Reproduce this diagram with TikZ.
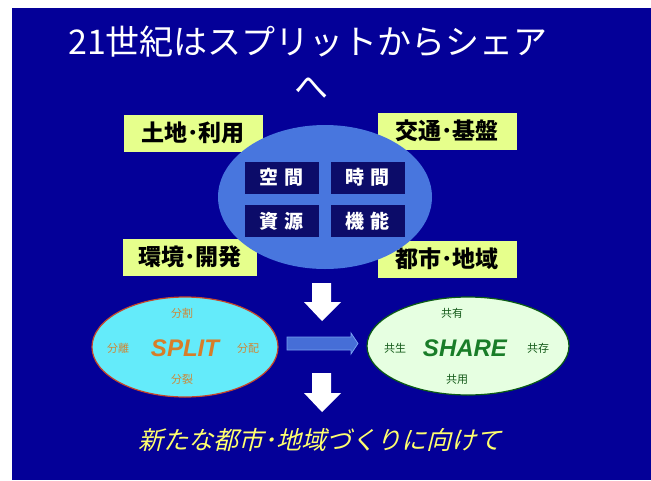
\documentclass[tikz,border=0pt]{standalone}
\usepackage{fontspec}
\newfontfamily\jp{Noto Sans CJK JP}
\newfontfamily\jpit[FakeSlant=0.25]{Noto Sans CJK JP}
\newfontfamily\lat{Liberation Sans}
\definecolor{bgblue}{RGB}{4,0,152}
\definecolor{yel}{RGB}{230,255,140}
\definecolor{midblue}{RGB}{72,118,222}
\definecolor{navybox}{RGB}{12,12,105}
\definecolor{cyanfill}{RGB}{100,235,250}
\definecolor{splitbd}{RGB}{200,70,40}
\definecolor{splittxt}{RGB}{205,135,55}
\definecolor{splitbig}{RGB}{215,125,40}
\definecolor{greenfill}{RGB}{230,255,225}
\definecolor{sharebd}{RGB}{10,90,20}
\definecolor{sharetxt}{RGB}{20,90,25}
\definecolor{sharebig}{RGB}{25,125,40}
\definecolor{arrblue}{RGB}{70,110,215}
\definecolor{arrbd}{RGB}{120,160,240}
\definecolor{titleyel}{RGB}{255,255,110}
\tikzset{
  ybox/.style={fill=yel, draw=none, minimum width=139pt, minimum height=37pt, inner sep=0pt, font=\jp\bfseries\fontsize{23}{23}\selectfont, text=black},
  nbox/.style={fill=navybox, draw=none, minimum width=74pt, minimum height=32pt, inner sep=0pt, font=\jp\bfseries\fontsize{19}{19}\selectfont, text=white},
  small/.style={font=\jp\fontsize{11}{11}\selectfont},
  big/.style={font=\lat\bfseries\itshape\fontsize{24}{24}\selectfont},
  downarr/.style={fill=white, draw=none}
}
\begin{document}
\begin{tikzpicture}[x=1pt,y=-1pt]
\useasboundingbox (0,0) rectangle (651,480);
\fill[white] (0,0) rectangle (651,480);
\fill[bgblue] (12,8) rectangle (651,480);
% title
\node[text=white, font=\jp\fontsize{34}{34}\selectfont, inner sep=0pt] (title) at (308,42) {21世紀はスプリットからシェア};
\node[text=white, font=\jp\fontsize{34}{34}\selectfont, inner sep=0pt] (he) at (311,88) {へ};
% yellow boxes
\node[ybox] (land) at (193,133) {土地･利用};
\node[ybox] (traffic) at (447,131) {交通･基盤};
\node[ybox, minimum width=134pt] (env) at (190,257) {環境･開発};
\node[ybox] (city) at (447,259) {都市･地域};
% central ellipse
\fill[midblue] (325,197) ellipse [x radius=107, y radius=72];
\node[nbox] (space) at (281.5,177.5) {空\,\,間};
\node[nbox] (time) at (367.5,177.5) {時\,\,間};
\node[nbox] (res) at (281.5,221) {資\,\,源};
\node[nbox] (func) at (367.5,221) {機\,\,能};
% down arrow 1
\fill[downarr] (312,283) -- (331,283) -- (331,302) -- (341,302) -- (322,321) -- (304,302) -- (312,302) -- cycle;
% split ellipse
\draw[splitbd, line width=1.2pt, fill=cyanfill] (185,347) ellipse [x radius=93, y radius=50];
\node[small, text=splittxt] (s1) at (182,313) {分割};
\node[small, text=splittxt] (s2) at (118,348) {分離};
\node[big, text=splitbig] (split) at (185,348) {SPLIT};
\node[small, text=splittxt] (s3) at (248,348) {分配};
\node[small, text=splittxt] (s4) at (182,379) {分裂};
% share ellipse
\draw[sharebd, line width=1.2pt, fill=greenfill] (468,346) ellipse [x radius=101, y radius=49];
\node[small, text=sharetxt] (h1) at (452,313) {共有};
\node[small, text=sharetxt] (h2) at (395,348) {共生};
\node[big, text=sharebig] (share) at (465,348) {SHARE};
\node[small, text=sharetxt] (h3) at (538,348) {共存};
\node[small, text=sharetxt] (h4) at (457,379) {共用};
% horizontal arrow
\draw[arrbd, line width=0.8pt, fill=arrblue] (287,337) -- (351,337) -- (351,333) -- (358,343.5) -- (351,354) -- (351,350) -- (287,350) -- cycle;
% down arrow 2
\fill[downarr] (312,373) -- (331,373) -- (331,393) -- (341,393) -- (322,412) -- (304,393) -- (312,393) -- cycle;
% bottom text
\node[text=titleyel, font=\jpit\fontsize{25}{25}\selectfont, inner sep=0pt] (goal) at (320,440) {新たな都市･地域づくりに向けて};
\end{tikzpicture}
\end{document}
